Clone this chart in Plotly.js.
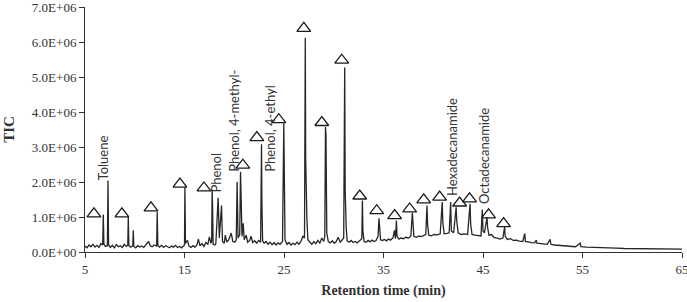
<!DOCTYPE html>
<html>
<head>
<meta charset="utf-8">
<script src="https://cdn.plot.ly/plotly-3.0.1.min.js"></script>
<style>
  html, body { margin: 0; padding: 0; background: #fff; }
  #chart { width: 687px; height: 302px; }
</style>
</head>
<body>
<div id="chart"></div>
<script>
// Total ion chromatogram: retention time (min) and signal (millions of counts)
const rtMin = [
  5.00, 5.20, 5.40, 5.60, 5.80, 6.00, 6.20, 6.40, 6.60, 6.78, 6.84, 6.90, 7.05, 7.25, 7.31, 7.37,
  7.55, 7.75, 7.95, 8.15, 8.35, 8.55, 8.75, 8.95, 9.15, 9.30, 9.35, 9.41, 9.60, 9.80, 9.85, 9.91,
  10.10, 10.30, 10.50, 10.70, 10.90, 11.10, 11.30, 11.40, 11.55, 11.75, 11.95, 12.20, 12.26, 12.32,
  12.50, 12.70, 12.90, 13.10, 13.30, 13.50, 13.70, 13.90, 14.10, 14.30, 14.50, 14.70, 14.90, 15.00,
  15.04, 15.07, 15.10, 15.30, 15.45, 15.65, 15.85, 16.05, 16.25, 16.40, 16.55, 16.75, 16.95, 17.15,
  17.35, 17.50, 17.65, 17.73, 17.78, 17.82, 17.88, 18.05, 18.15, 18.38, 18.50, 18.72, 18.82, 19.00,
  19.10, 19.25, 19.45, 19.70, 19.85, 20.05, 20.20, 20.29, 20.38, 20.55, 20.63, 20.68, 20.78, 20.90,
  21.00, 21.20, 21.35, 21.55, 21.70, 21.85, 22.05, 22.25, 22.45, 22.65, 22.74, 22.78, 22.85, 23.00,
  23.20, 23.40, 23.60, 23.80, 24.00, 24.20, 24.40, 24.60, 24.85, 24.98, 25.03, 25.10, 25.30, 25.50,
  25.70, 25.90, 26.10, 26.30, 26.50, 26.70, 26.90, 27.06, 27.14, 27.18, 27.30, 27.40, 27.60, 27.80,
  28.00, 28.20, 28.40, 28.60, 28.80, 29.00, 29.10, 29.17, 29.22, 29.30, 29.45, 29.65, 29.85, 30.05,
  30.25, 30.45, 30.65, 30.85, 31.00, 31.10, 31.15, 31.25, 31.35, 31.55, 31.75, 31.95, 32.15, 32.35,
  32.60, 32.82, 32.88, 32.93, 33.05, 33.25, 33.45, 33.65, 33.85, 34.05, 34.25, 34.45, 34.55, 34.60,
  34.70, 34.90, 35.10, 35.30, 35.50, 35.70, 35.95, 36.10, 36.20, 36.30, 36.36, 36.55, 36.75, 37.00,
  37.25, 37.50, 37.75, 37.90, 37.96, 38.05, 38.30, 38.55, 38.80, 39.05, 39.25, 39.37, 39.43, 39.55,
  39.80, 40.10, 40.40, 40.70, 40.90, 40.96, 41.10, 41.40, 41.60, 41.75, 41.82, 42.05, 42.30, 42.36,
  42.50, 42.80, 43.10, 43.45, 43.70, 43.76, 43.90, 44.20, 44.55, 44.80, 44.93, 45.00, 45.15, 45.40,
  45.46, 45.60, 45.85, 46.10, 46.40, 46.70, 47.00, 47.17, 47.23, 47.45, 47.75, 48.05, 48.35, 48.65,
  49.00, 49.20, 49.26, 49.55, 49.90, 50.20, 50.35, 50.42, 50.75, 51.10, 51.45, 51.75, 51.82, 52.20,
  52.70, 53.20, 53.80, 54.30, 54.77, 54.84, 55.40, 56.00, 56.80, 57.60, 58.40, 59.20, 60.00, 61.00,
  62.00, 63.00, 64.00, 65.00
];
const ticMillions = [
  0.17, 0.12, 0.20, 0.15, 0.22, 0.14, 0.19, 0.13, 0.24, 0.20, 1.07, 0.22, 0.16, 0.18, 2.04, 0.20,
  0.13, 0.19, 0.12, 0.21, 0.15, 0.18, 0.13, 0.22, 0.16, 0.20, 1.00, 0.18, 0.14, 0.18, 0.62, 0.16,
  0.12, 0.18, 0.14, 0.17, 0.13, 0.21, 0.27, 0.30, 0.18, 0.15, 0.20, 0.17, 1.15, 0.19,
  0.14, 0.19, 0.13, 0.18, 0.15, 0.12, 0.17, 0.14, 0.19, 0.13, 0.16, 0.12, 0.17, 0.20,
  1.86, 1.33, 0.25, 0.33, 0.17, 0.13, 0.18, 0.14, 0.20, 0.37, 0.18, 0.24, 0.16, 0.27,
  0.22, 0.43, 0.25, 0.30, 1.78, 1.30, 0.22, 0.20, 0.24, 1.55, 0.40, 1.33, 0.30, 0.25,
  0.48, 0.28, 0.35, 0.54, 0.30, 0.28, 0.35, 2.01, 0.40, 0.50, 2.29, 1.55, 0.45, 0.82,
  0.35, 0.48, 0.28, 0.33, 0.45, 0.27, 0.32, 0.25, 0.33, 0.28, 3.08, 1.40, 0.32, 0.25,
  0.30, 0.22, 0.28, 0.21, 0.27, 0.20, 0.26, 0.22, 0.30, 3.68, 1.10, 0.35, 0.22, 0.27,
  0.20, 0.25, 0.21, 0.28, 0.22, 0.30, 0.45, 0.40, 6.12, 2.65, 0.95, 0.35, 0.28, 0.22,
  0.30, 0.24, 0.33, 0.26, 0.40, 0.30, 0.45, 3.57, 3.35, 0.55, 0.30, 0.26, 0.32, 0.25,
  0.30, 0.42, 0.28, 0.35, 0.40, 5.27, 1.75, 0.70, 0.32, 0.28, 0.33, 0.27, 0.30, 0.26,
  0.32, 0.38, 1.47, 0.60, 0.30, 0.28, 0.33, 0.29, 0.34, 0.30, 0.33, 0.45, 0.96, 0.68,
  0.35, 0.33, 0.36, 0.32, 0.37, 0.34, 0.40, 0.62, 0.38, 0.90, 0.45, 0.37, 0.40, 0.38,
  0.42, 0.40, 0.45, 1.12, 0.70, 0.45, 0.42, 0.46, 0.44, 0.48, 0.50, 1.33, 0.80, 0.48,
  0.46, 0.50, 0.49, 0.52, 1.43, 0.85, 0.52, 0.53, 0.55, 1.43, 0.60, 0.55, 1.28, 0.90,
  0.55, 0.50, 0.52, 0.50, 1.38, 0.80, 0.50, 0.48, 0.47, 0.46, 1.21, 0.60, 0.55, 1.00,
  0.70, 0.48, 0.50, 0.42, 0.40, 0.37, 0.40, 0.72, 0.45, 0.36, 0.38, 0.33, 0.34, 0.31,
  0.30, 0.53, 0.30, 0.28, 0.27, 0.26, 0.34, 0.25, 0.24, 0.23, 0.22, 0.36, 0.22, 0.20,
  0.19, 0.18, 0.16, 0.15, 0.25, 0.15, 0.14, 0.13, 0.12, 0.11, 0.11, 0.10, 0.10, 0.09,
  0.09, 0.09, 0.08, 0.08
];

// Open-triangle flags over the picked peaks
const flagTime = [5.90, 8.71, 11.63, 14.54, 16.95, 20.86, 22.27, 24.48, 26.99, 28.80, 30.80,
                  32.61, 34.32, 36.12, 37.63, 39.04, 40.64, 42.65, 43.65, 45.56, 47.07];
const flagTicMillions = [1.09, 1.09, 1.26, 1.94, 1.83, 2.48, 3.27, 3.78, 6.39, 3.70, 5.48,
                         1.60, 1.18, 1.04, 1.23, 1.49, 1.57, 1.40, 1.52, 1.06, 0.81];

// Identified compounds, labelled vertically above their peaks
const compoundNames = ["Toluene", "Phenol", "Phenol, 4-methyl-", "Phenol, 4-ethyl",
                       "Hexadecanamide", "Octadecanamide"];
const compoundTime = [6.84, 18.20, 19.90, 23.57, 41.88, 45.16];
const compoundTicMillions = [2.01, 1.68, 2.27, 2.27, 1.57, 1.33];

// Axis ticks
const xTicks = [5, 15, 25, 35, 45, 55, 65];
const yTicksMillions = [0, 1, 2, 3, 4, 5, 6, 7];
const yTickText = ["0.0E+00", "1.0E+06", "2.0E+06", "3.0E+06", "4.0E+06", "5.0E+06", "6.0E+06", "7.0E+06"];

const M = 1e6;
const toCounts = arr => arr.map(v => v * M);

const serif = "'Liberation Serif', 'Times New Roman', serif";
const ink = "#262626";

const traces = [
  {
    type: "scatter",
    mode: "lines",
    x: rtMin,
    y: toCounts(ticMillions),
    line: { color: ink, width: 1.3 },
    hoverinfo: "skip",
    showlegend: false
  },
  {
    type: "scatter",
    mode: "markers",
    x: flagTime,
    y: toCounts(flagTicMillions),
    marker: {
      symbol: "triangle-up-open",
      size: 12,
      color: "#1a1a1a",
      line: { color: "#1a1a1a", width: 1.3 }
    },
    hoverinfo: "skip",
    showlegend: false
  }
];

const annotations = compoundNames.map((name, i) => ({
  x: compoundTime[i],
  y: compoundTicMillions[i] * M,
  xref: "x",
  yref: "y",
  text: name,
  showarrow: false,
  textangle: -90,
  xanchor: "center",
  yanchor: "bottom",
  borderpad: 0,
  font: { family: "Lato, 'Open Sans', sans-serif", size: 13, color: "#333" }
}));

const layout = {
  width: 687,
  height: 302,
  margin: { l: 85, r: 5, t: 7, b: 50 },
  paper_bgcolor: "#fff",
  plot_bgcolor: "#fff",
  showlegend: false,
  annotations: annotations,
  xaxis: {
    range: [5, 65],
    tickmode: "array",
    tickvals: xTicks,
    ticktext: xTicks.map(String),
    ticks: "outside",
    ticklen: 5,
    tickwidth: 1,
    tickcolor: "#333",
    showline: true,
    linecolor: "#333",
    linewidth: 1,
    showgrid: false,
    zeroline: false,
    ticklabeloverflow: "allow",
    tickfont: { family: serif, size: 13, color: "#333" },
    title: {
      text: "<b>Retention time (min)</b>",
      font: { family: serif, size: 14, color: "#333" },
      standoff: 9
    }
  },
  yaxis: {
    range: [0, 7 * M],
    tickmode: "array",
    tickvals: toCounts(yTicksMillions),
    ticktext: yTickText,
    ticks: "outside",
    ticklen: 5,
    tickwidth: 1,
    tickcolor: "#333",
    showline: true,
    linecolor: "#333",
    linewidth: 1,
    showgrid: false,
    zeroline: false,
    ticklabeloverflow: "allow",
    tickfont: { family: serif, size: 13, color: "#333" },
    title: {
      text: "<b>TIC</b>",
      font: { family: serif, size: 15, color: "#333" },
      standoff: 13
    }
  }
};

Plotly.newPlot("chart", traces, layout, { staticPlot: true, displayModeBar: false });
</script>
</body>
</html>
